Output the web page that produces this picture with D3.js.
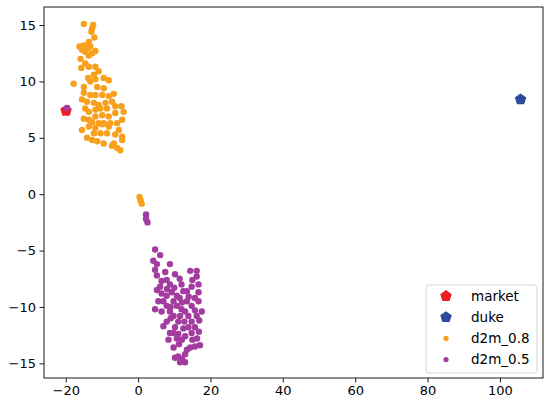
<!DOCTYPE html>
<html><head><meta charset="utf-8">
<script src="https://cdn.jsdelivr.net/npm/d3@7"></script>
<style>body{margin:0;background:#fff}svg{display:block;font-family:"DejaVu Sans",sans-serif}</style>
</head><body><svg id="c" width="550" height="408"></svg>
<script>
const seriesNames = ["market","duke","d2m_0.8","d2m_0.5"];
const marketPts = [[-19.9,7.4]];
const dukePts = [[105.7,8.4]];
const d2m08 = [[-15.0,15.1],[-12.4,15.0],[-12.7,14.7],[-12.9,14.4],[-12.1,13.9],[-13.6,13.5],[-16.2,13.1],[-15.0,13.2],[-14.1,12.9],[-13.2,13.1],[-11.8,12.7],[-15.5,12.8],[-14.6,12.6],[-12.7,12.5],[-13.6,12.3],[-15.9,12.0],[-14.6,11.6],[-13.6,11.3],[-11.8,11.3],[-15.7,11.2],[-10.9,10.9],[-12.2,10.6],[-13.8,10.3],[-11.8,10.2],[-9.5,10.3],[-8.1,10.1],[-17.8,9.8],[-13.2,10.0],[-15.0,9.5],[-11.3,9.5],[-9.5,9.4],[-15.0,9.0],[-13.2,8.8],[-11.8,8.8],[-9.9,8.8],[-8.1,8.7],[-6.7,8.9],[-15.5,8.4],[-14.1,8.2],[-12.2,8.1],[-10.9,7.9],[-9.0,8.1],[-7.2,8.2],[-14.6,7.6],[-13.6,7.3],[-11.8,7.5],[-10.4,7.6],[-8.6,7.6],[-6.3,7.8],[-4.6,7.8],[-4.0,7.3],[-15.0,6.7],[-13.6,6.6],[-11.8,6.9],[-9.9,7.0],[-8.1,6.9],[-6.3,7.2],[-4.4,6.6],[-12.7,6.4],[-10.9,6.3],[-9.5,6.3],[-7.7,6.3],[-5.8,6.3],[-15.5,5.7],[-13.6,6.0],[-11.8,5.9],[-9.9,6.2],[-8.1,6.0],[-5.3,5.7],[-12.2,5.4],[-10.4,5.4],[-8.6,5.4],[-6.3,5.3],[-4.4,5.1],[-14.1,5.0],[-12.7,4.8],[-11.3,4.7],[-9.5,4.5],[-6.7,4.5],[-4.4,4.8],[-5.8,4.1],[-4.9,3.9],[-7.2,4.3],[0.4,-0.25],[0.7,-0.55],[1.0,-0.84]];
const d2m05 = [[4.7,-4.9],[6.1,-5.4],[4.2,-5.9],[5.2,-6.2],[8.8,-6.2],[4.7,-6.7],[14.4,-6.8],[16.2,-6.8],[5.2,-7.2],[10.2,-7.1],[16.2,-7.3],[6.5,-7.7],[7.9,-7.6],[6.1,-8.2],[8.8,-8.0],[5.2,-8.5],[16.7,-8.0],[12.5,-8.6],[13.5,-8.6],[9.3,-8.7],[16.7,-8.7],[6.5,-8.8],[7.9,-9.0],[10.7,-9.0],[15.7,-9.2],[5.6,-9.5],[7.0,-9.5],[9.8,-9.5],[12.1,-9.6],[13.5,-9.5],[16.7,-9.5],[4.7,-10.2],[7.9,-9.9],[10.7,-9.9],[14.8,-9.9],[6.5,-10.4],[8.8,-10.4],[13.0,-10.4],[15.7,-10.3],[17.6,-10.4],[9.8,-10.8],[11.6,-10.8],[13.9,-10.8],[16.2,-10.8],[7.9,-11.3],[11.1,-11.3],[14.8,-11.3],[7.0,-11.7],[10.2,-11.8],[12.5,-11.9],[13.9,-11.8],[15.7,-11.8],[8.8,-12.3],[11.1,-12.4],[14.8,-12.3],[8.4,-12.9],[10.7,-12.8],[12.1,-12.9],[15.7,-13.5],[17.1,-13.4],[14.4,-13.6],[13.5,-13.8],[9.8,-13.6],[13.0,-14.2],[11.1,-14.4],[10.2,-14.5],[12.1,-14.6],[11.6,-14.9],[13.0,-14.9],[7.5,-6.9],[11.5,-7.5],[15.0,-7.6],[12.0,-8.0],[14.8,-8.2],[10.0,-8.3],[8.0,-8.4],[11.5,-9.2],[14.0,-9.1],[9.0,-10.0],[12.0,-10.2],[16.9,-11.2],[9.0,-11.0],[12.8,-11.3],[16.8,-12.2],[9.8,-12.3],[13.0,-12.6],[15.0,-12.9],[11.3,-13.3],[16.3,-12.8],[2.2,-1.8],[2.2,-2.2],[2.6,-2.5],[-19.6,7.65]];
const xTicks = [-20,0,20,40,60,80,100];
const yTicks = [-15,-10,-5,0,5,10,15];
const colors = {"market":"#ee1c25","duke":"#2e4a9e","d2m_0.8":"#f8a01c","d2m_0.5":"#a23c9e"};

const svg = d3.select("#c");
const L=44,R=543,T=7,B=378;
const x = d3.scaleLinear().domain([-26,111.9]).range([L,R]);
const y = d3.scaleLinear().domain([-16.3,16.6]).range([B,T]);

const pentagon = {draw(ctx,size){const r=Math.sqrt(size/1.2);for(let i=0;i<5;i++){const a=-Math.PI/2+i*2*Math.PI/5;const px=r*Math.cos(a),py=r*Math.sin(a);i?ctx.lineTo(px,py):ctx.moveTo(px,py);}ctx.closePath();}};
const pent = d3.symbol().type(pentagon).size(44);

svg.append("g").selectAll("path").data(marketPts).join("path").attr("d",pent).attr("transform",d=>`translate(${x(d[0])},${y(d[1])})`).attr("fill",colors.market);
svg.append("g").selectAll("path").data(dukePts).join("path").attr("d",pent).attr("transform",d=>`translate(${x(d[0])},${y(d[1])})`).attr("fill",colors.duke);
svg.append("g").selectAll("circle").data(d2m08).join("circle").attr("cx",d=>x(d[0])).attr("cy",d=>y(d[1])).attr("r",3.2).attr("fill",colors["d2m_0.8"]);
svg.append("g").selectAll("circle").data(d2m05).join("circle").attr("cx",d=>x(d[0])).attr("cy",d=>y(d[1])).attr("r",3.2).attr("fill",colors["d2m_0.5"]);

const fmt = v => v<0 ? "\u2212"+Math.abs(v) : String(v);
const gx = svg.append("g").attr("transform",`translate(0,${B})`).call(d3.axisBottom(x).tickValues(xTicks).tickFormat(fmt).tickSizeOuter(0).tickSize(4.5).tickPadding(3.5));
const gy = svg.append("g").attr("transform",`translate(${L},0)`).call(d3.axisLeft(y).tickValues(yTicks).tickFormat(fmt).tickSizeOuter(0).tickSize(4.5).tickPadding(3.5));
[gx,gy].forEach(g=>{g.select(".domain").remove();g.selectAll("text").attr("font-size","13px").attr("fill","#000").attr("font-family","DejaVu Sans");g.selectAll("line").attr("stroke","#000").attr("stroke-width",0.9);});
svg.append("rect").attr("x",L).attr("y",T).attr("width",R-L).attr("height",B-T).attr("fill","none").attr("stroke","#000").attr("stroke-width",0.9);

// legend
const lg = svg.append("g");
lg.append("rect").attr("x",426).attr("y",285).attr("width",111).attr("height",88).attr("rx",3).attr("fill","#fff").attr("fill-opacity",0.8).attr("stroke","#ccc").attr("stroke-width",0.8);
seriesNames.forEach((n,i)=>{
  const cy = 296 + i*21.2;
  if(i<2) lg.append("path").attr("d",pent).attr("transform",`translate(446,${cy})`).attr("fill",colors[n]);
  else lg.append("circle").attr("cx",446).attr("cy",cy).attr("r",2.6).attr("fill",colors[n]);
  lg.append("text").attr("x",471).attr("y",cy).attr("dy","0.36em").attr("font-size","13.5px").attr("fill","#000").text(n);
});
</script></body></html>
